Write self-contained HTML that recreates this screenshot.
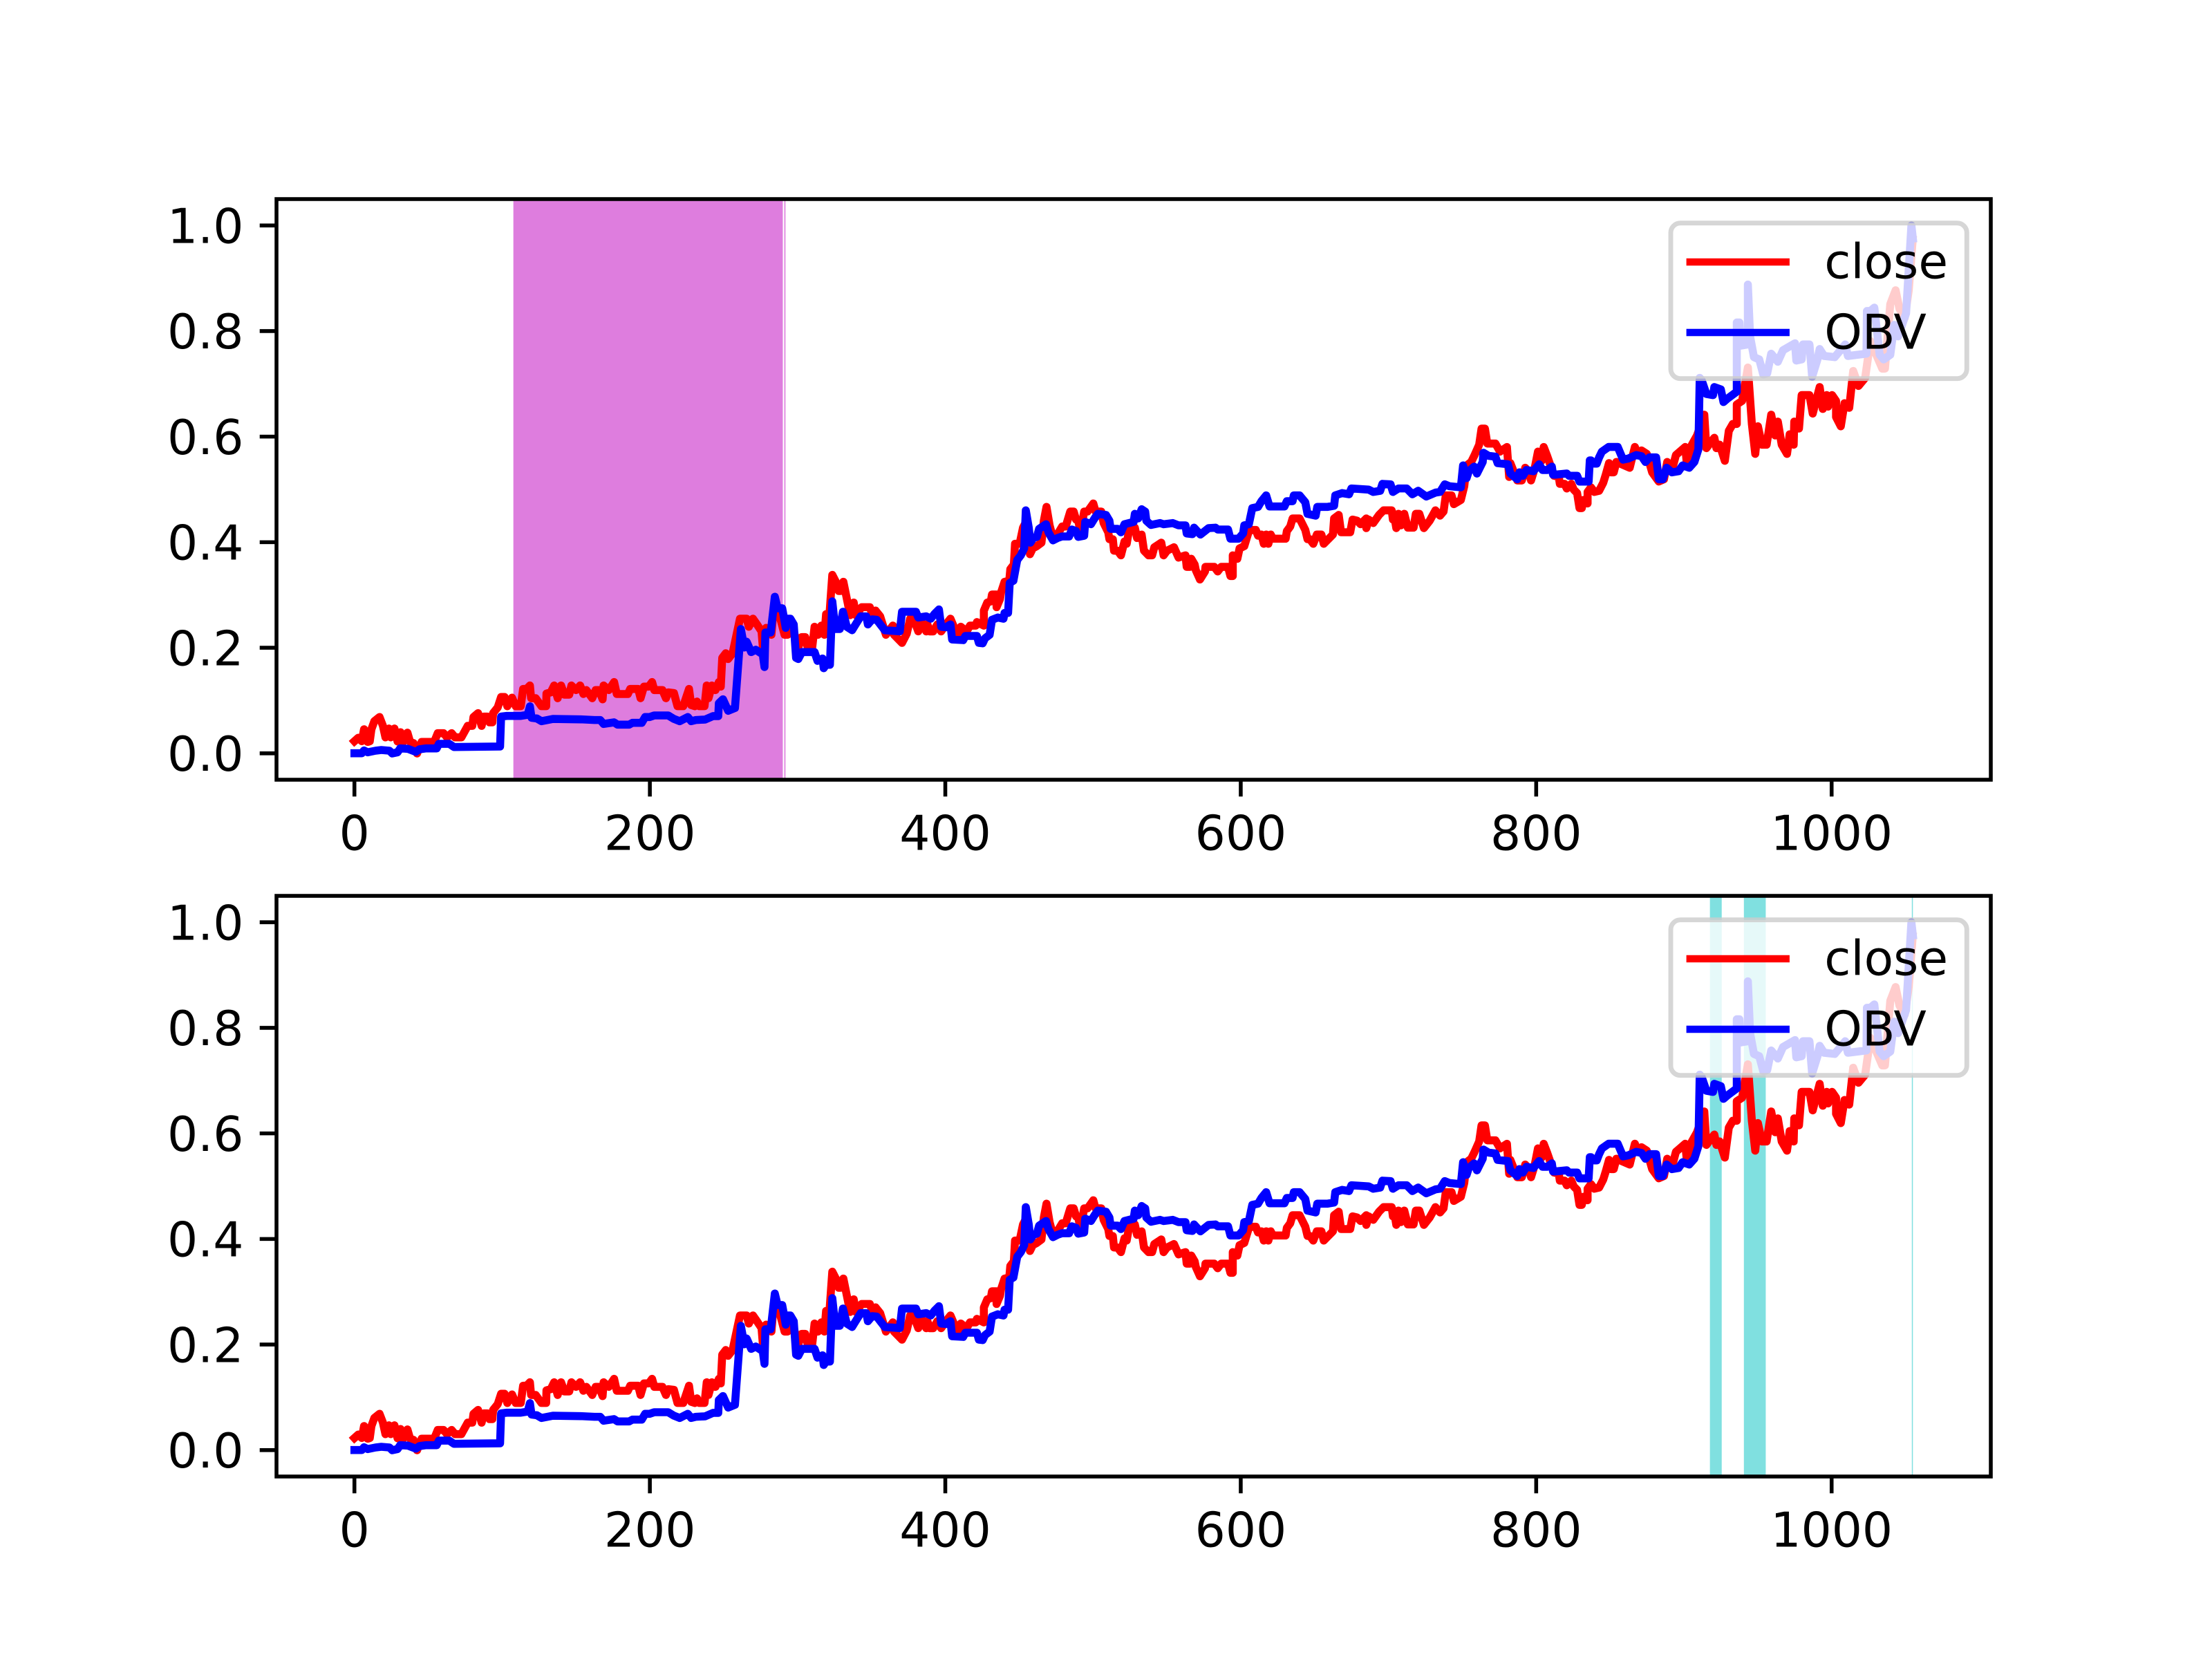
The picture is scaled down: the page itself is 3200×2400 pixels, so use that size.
<!DOCTYPE html>
<html lang="en">
<head>
<meta charset="utf-8">
<title>Close and OBV chart</title>
<style>
html,body{margin:0;padding:0;background:#fff;width:3200px;height:2400px;overflow:hidden}
svg{display:block}
text{font-family:"DejaVu Sans","Liberation Sans",sans-serif;font-size:69.44px;fill:#000}
</style>
</head>
<body>
<svg id="chart" xmlns="http://www.w3.org/2000/svg" width="3200" height="2400" viewBox="0 0 3200 2400">
<rect width="3200" height="2400" fill="#fff"/>
<g id="panel-top"></g>
<g id="panel-bottom"></g>
</svg>
<script>
const closeX = [0,2.6,5,6.5,9,10.4,11.5,13.5,17,19.3,21,23.4,24.6,27.1,29.2,31.2,33,35.9,37.7,40,42.4,45.5,54,56.4,60.3,62.7,65.8,68.1,72.4,76.7,79.8,80.6,83.7,86.1,87.6,90,91.5,93.4,93.9,97,99.3,101.7,103.5,106.7,109.2,112.6,114.2,116.5,118.8,119.6,122.7,126.6,129.8,130,132.9,135.2,137.6,139.9,142.2,145.4,146.9,150,152.8,155,157,161,163.3,165.6,168,168.7,172.2,175.8,177.6,185.1,186.7,192.1,193.7,196,199.2,201.5,203,208.5,210.9,212.4,216.3,218.7,222.6,226.5,228,230.4,231.9,233.5,237,238.5,239.7,242,244.4,246.7,248,249,251.4,253,256,261,265.5,267,269.8,272.5,275.6,276.5,278.7,282.3,283.4,287.3,291.2,293.2,295.5,300.5,302.9,305.2,306.8,309.9,311.5,313.8,316.1,318.2,319.3,321.6,323.5,326.3,327.8,329.1,331,335.6,338,339.5,343.4,348.9,350.5,352.8,355.9,359.8,364.5,365.3,370.7,373.9,376.2,378.5,381.7,384,387.1,387.9,389.4,391.8,394.6,397.2,400.4,403.5,405.8,408.9,410.5,414.4,416.7,420.6,421.4,426.1,426.1,428.4,430.8,431.6,434.7,434.7,437,437.8,440.1,443.3,444,446.4,447.2,450.3,452.6,455,457.3,459.2,462,465.1,466.7,468.5,470.6,472.9,476.8,479.1,481.5,484.6,486.9,488.5,490,491.6,494,496.3,500.2,501.7,505.6,507.2,510.3,511.1,513.4,514.2,516.6,518.9,521.3,522.8,524.4,528.3,529.8,532.9,534.5,537.6,540,541.5,543.9,546.2,547.8,550.1,554.8,557.9,562.6,563.4,565.7,566.5,568.8,569.6,572.4,575.8,576.1,582.1,584.4,586.8,591.4,593,594.6,594.6,597.7,599.2,602.4,605.5,607.8,610.2,611.7,614,615.6,617.2,618.7,620.3,621.8,630.4,631.2,633.5,635.1,639.8,643.7,645.2,646.8,649.1,651.5,654.6,656.2,658.5,662.4,663.2,666.3,667.9,674.1,675.7,678.8,681.1,685,685,686.6,689.7,693.6,696.7,702.2,703,703.7,705.3,706.8,708.4,710.7,713.1,717,718.5,720.9,724,727.9,731.8,734.9,737.3,738.8,742.7,744.3,749,751.3,752.9,756,758.3,761.4,763,765.3,766.9,772.4,775.5,780.2,781.7,782.5,787.2,790.3,792.6,795,796.5,798.9,801.2,803.6,805.1,807.5,812.1,815.3,816,819.2,820.7,823.8,825.4,827.7,829.3,830.9,831.9,834.8,834.8,837.1,839.4,842.6,845.4,847.1,849.3,850.7,852.5,854.3,863.3,866.8,868.6,871.3,874.9,878.5,883,886.5,888.7,891.9,894.6,898.2,900.9,901.8,905.4,908.9,913.8,915.2,920.6,922,924.2,927.7,930.4,933.1,935.8,935.8,939.4,943.3,946,948.3,950.1,952.8,956,959.1,961.8,963.6,966.2,969.8,971.6,974.3,974.7,977.9,979.7,985,987.2,991.9,994,996.7,997.6,1000.3,1003,1003,1006.2,1008.7,1011.9,1014.6,1018.2,1022.7,1026.2,1028.9,1034.3,1036.1,1039.7,1043.3,1045.9,1049.5,1052.2,1054.9];
const closeValues = [.0229,.0295,.023,.0456,.0216,.0229,.0456,.061,.0688,.052,.0303,.0469,.0303,.0469,.0225,.04,.0216,.0391,.0216,.0194,-.0002,.0216,.0216,.0382,.0382,.0303,.0382,.0303,.0303,.052,.052,.0688,.0762,.052,.0696,.0696,.0587,.0587,.0762,.087,.1067,.1067,.0893,.1054,.0893,.0893,.122,.122,.1285,.1045,.1045,.0893,.0893,.1133,.1155,.1285,.1045,.1285,.1111,.1111,.1285,.1198,.1285,.1124,.1198,.1045,.1198,.1198,.1023,.1285,.1198,.135,.1124,.1124,.122,.122,.1045,.1264,.1264,.135,.1198,.1198,.1045,.1155,.1141,.0893,.0893,.122,.0914,.0893,.098,.0893,.0893,.1285,.1045,.1285,.1198,.135,.1264,.1809,.1896,.1787,.1896,.2551,.2551,.2398,.2551,.2442,.2311,.2006,.2377,.2246,.2617,.266,.2246,.2246,.25,.2006,.2202,.2202,.2006,.2006,.2398,.2246,.242,.2246,.2638,.2638,.338,.3228,.3075,.3075,.325,.2617,.2857,.2617,.2769,.2769,.2638,.2704,.2595,.2246,.242,.2246,.2093,.2267,.2551,.2551,.2311,.2486,.231,.2442,.231,.231,.2442,.231,.2442,.2551,.2398,.2267,.2398,.231,.242,.242,.2486,.242,.2704,.2856,.2878,.3009,.3009,.2769,.2922,.3053,.3249,.3271,.3489,.3577,.397,.397,.4275,.4406,.3773,.3882,.3926,.3991,.4406,.4668,.4319,.4079,.4188,.4297,.4297,.4581,.4581,.4428,.4406,.4188,.4581,.4581,.4733,.4581,.4581,.4362,.4188,.4057,.4057,.3839,.3839,.3751,.4013,.397,.4231,.4275,.4079,.4144,.3839,.3751,.3751,.3904,.3948,.3991,.3751,.3839,.3904,.3708,.3751,.3533,.3533,.3686,.3577,.3468,.3293,.3446,.3533,.3533,.3446,.3533,.3533,.3359,.3359,.3751,.3686,.3882,.3926,.421,.4231,.4231,.4123,.4145,.397,.4145,.397,.4145,.4066,.4066,.421,.4297,.445,.445,.4232,.4057,.4057,.397,.4145,.4145,.397,.4035,.4145,.445,.4516,.4188,.4188,.4428,.4407,.4341,.445,.4267,.4428,.4363,.4516,.4603,.4603,.4428,.4537,.4267,.4537,.4319,.4537,.4275,.4275,.4537,.4537,.4267,.4407,.4603,.4503,.4581,.4887,.4887,.4721,.48,.5061,.5454,.552,.565,.5847,.6152,.6152,.5869,.5869,.5716,.5803,.5236,.5498,.517,.517,.541,.5323,.517,.5389,.5716,.5541,.5803,.5629,.5258,.5236,.5105,.5105,.5018,.5105,.4996,.493,.4646,.4646,.4799,.4734,.4952,.5039,.4952,.4974,.5127,.528,.5498,.5323,.5323,.552,.541,.5804,.5673,.5738,.5673,.5323,.5149,.5192,.552,.5367,.5651,.5738,.5804,.5542,.5847,.6022,.6415,.5782,.5978,.5782,.5847,.5542,.6109,.624,.624,.661,.6677,.7309,.624,.5673,.6196,.5847,.5847,.6415,.6022,.6284,.5847,.5673,.6044,.5847,.6284,.6153,.6786,.6786,.6437,.6939,.6524,.6786,.6568,.6786,.6677,.637,.6196,.6633,.6546,.7244,.696,.7113,.7811,.7637,.7288,.7288,.851,.8772,.8423,.8248,.8772,.9732];
const obvX = [0,5,6.5,9,14.3,18.2,23.7,25.6,29.2,31,36.2,41.6,44,48.6,55.7,57.2,64.2,67.4,98.6,99.3,103.2,112.6,117.3,118.8,119.9,123.5,126.6,134.4,153.2,162.5,166.4,168.7,175.8,178.1,185.9,188.2,194.5,196.8,199.9,203,212.4,216.3,220.2,225.7,228,231.1,237.4,242.8,246.3,246.7,249.5,253,257.6,261.6,263.9,265.5,268.6,271.7,276.4,277.6,278.2,281.8,284.6,286.5,289.6,292,292.7,295.1,297.4,299,300.5,302.9,311.5,313.5,316.9,317.7,319.3,321.9,323.5,325.5,328.6,330.7,333.3,336.9,338.8,342.7,346.5,347.6,350.5,353.6,359,369.2,370.7,380.1,381.7,387.1,390.2,392.6,395.7,397.2,400.4,403.5,404.6,412.1,413.6,421.4,422.7,425.3,426.9,430,431.6,435.5,439.4,440.1,442.5,443.6,446.1,448.7,451.1,453.4,454.5,456.5,457.6,459.6,462,463.5,468.2,469.8,472.9,476,479.1,483.8,485.7,488.5,490,494,494.7,498.6,501,503.3,508.8,511.1,511.9,516.6,518.9,521.3,527.5,528.3,530.6,532.9,535.3,536.1,539.2,545.4,547.8,554,557.9,562.6,563.4,567.3,568.4,572.7,578.2,582.9,584.4,591.4,593,598.5,601.6,602.4,605.5,607.8,611.7,614,617.2,619.5,629.6,631.2,635.1,635.9,639.8,643.7,645.2,650.7,651.8,658.5,663.2,664,668.6,673.3,674.9,686.6,689.7,694.4,695.9,701.4,703,706.8,712.3,716.2,720.1,725.6,731.8,734.9,738.1,741.2,749,750.5,752.9,754.4,758,759.9,763.8,764.3,767.7,772.4,773.9,780.9,782.5,787.2,788.7,791,793.4,798.1,802,804.3,807.5,810.6,811.4,812.9,820.7,822.3,827.7,829.3,835.5,836.3,837.1,839.4,841,842.6,844.5,849,855.2,858.8,862.4,867.7,871.3,874,876.7,881.2,883,885.7,888.3,891.9,896.4,899.1,903.6,907.1,909.8,910.7,912,915.2,919.7,920.6,925,926.8,929.5,935.8,935.8,937.6,938.5,943.3,943.3,944.8,947.4,951,953.7,956.4,959.1,963.6,967.1,975.2,976.1,979.7,980.6,985,986.8,990.4,991.9,994.9,1002.1,1009.2,1011,1023.6,1023.9,1026.2,1028.9,1032.5,1035.2,1039.7,1042.4,1045,1050.4,1054,1055];
const obvValues = [.0002,.0002,.0054,.002,.005,.0063,.005,-.0002,.002,.0094,.0085,.0028,.0076,.0094,.0094,.018,.018,.012,.0129,.0696,.0709,.0709,.073,.089,.0674,.0661,.0609,.0652,.0644,.0631,.0631,.0557,.0587,.0543,.0543,.0578,.0578,.0688,.0688,.0718,.0718,.0652,.0609,.0688,.0609,.0631,.064,.0705,.0705,.0949,.1024,.0806,.0858,.2355,.2006,.2115,.1918,.1962,.1875,.1635,.2289,.2289,.2966,.2748,.2748,.2377,.2551,.2551,.2442,.1809,.1787,.1918,.1918,.1752,.1796,.1613,.1678,.1678,.2879,.2355,.2355,.2682,.2398,.2333,.242,.2595,.2595,.2442,.2538,.2529,.2333,.2311,.2682,.2682,.2573,.2595,.2551,.2638,.2725,.2398,.2389,.2442,.2158,.2145,.2224,.2224,.2093,.2084,.218,.2245,.2529,.2573,.2551,.266,.266,.3227,.3271,.3664,.3751,.3882,.4603,.4275,.3991,.4079,.4101,.4253,.434,.4188,.4035,.4079,.4109,.4109,.424,.421,.4101,.4122,.4384,.4341,.445,.4537,.4515,.4406,.4253,.4253,.4188,.434,.4384,.4537,.445,.4624,.458,.4406,.4327,.4362,.434,.4362,.4319,.4319,.4166,.4153,.4275,.4144,.4266,.4275,.424,.424,.4066,.4066,.4166,.4319,.4341,.4646,.4668,.4777,.4887,.4677,.4677,.4777,.4777,.4887,.4887,.4756,.4537,.4503,.4668,.4668,.469,.4887,.493,.4908,.5018,.4996,.4952,.4974,.5105,.5096,.4952,.5018,.5018,.4908,.4974,.4865,.4939,.4952,.5096,.5061,.5039,.5454,.5214,.5345,.5432,.5301,.552,.5694,.5637,.562,.5498,.5476,.5301,.5192,.5323,.5258,.5367,.5345,.5476,.5367,.5367,.5432,.5279,.5279,.5301,.5258,.5258,.5148,.5148,.555,.555,.5489,.5489,.5607,.5716,.5804,.5804,.5564,.5585,.565,.5629,.552,.5607,.5607,.5192,.5192,.541,.5323,.5345,.5454,.541,.552,.576,.7113,.707,.6808,.6786,.6939,.6895,.6655,.672,.6851,.8161,.8161,.7724,.7746,.888,.7899,.7506,.7462,.7179,.72,.7571,.7419,.7637,.7768,.7441,.7462,.7746,.7746,.7135,.7462,.7659,.7528,.7506,.7746,.7528,.7571,.8379,.8379,.8444,.755,.7462,.755,.8117,.7899,.8335,1.0,.975];
const topSpanStarts = [107.6, 291];
const topSpanEnds = [290, 291.8];
const bottomSpanStarts = [917.6, 940.6, 1054.3];
const bottomSpanEnds = [925.6, 955.4, 1055];
const xTickValues = [0, 200, 400, 600, 800, 1000];
const xTickLabels = ["0", "200", "400", "600", "800", "1000"];
const yTickValues = [0, 0.2, 0.4, 0.6, 0.8, 1.0];
const yTickLabels = ["0.0", "0.2", "0.4", "0.6", "0.8", "1.0"];
const legendLabels = ["close", "OBV"];

const NS = "http://www.w3.org/2000/svg";
const AX_LEFT = 400, AX_RIGHT = 2880, AX_H = 840;
const X_MIN = -52.75, X_MAX = 1107.75, Y_MIN = -0.05, Y_MAX = 1.05;
const THIN = 5.56, LINE = 11.6, TICK = 24.3;

function xScale(v) { return AX_LEFT + (v - X_MIN) / (X_MAX - X_MIN) * (AX_RIGHT - AX_LEFT); }
function yScale(v, top) { return top + AX_H - (v - Y_MIN) / (Y_MAX - Y_MIN) * AX_H; }
function make(tag, parent) { const el = document.createElementNS(NS, tag); parent.appendChild(el); return el; }
function set(el, obj) { for (const k in obj) el.setAttribute(k, obj[k]); }
function pathFor(xs, ys, top) {
  return xs.map(function (x, i) { return (i ? "L" : "M") + xScale(x).toFixed(2) + " " + yScale(ys[i], top).toFixed(2); }).join("");
}

function drawPanel(parent, top, spanStarts, spanEnds, spanColor) {
  spanStarts.forEach(function (s, i) {
    const r = make("rect", parent);
    
    
    set(r, { x: xScale(s), y: top, width: xScale(spanEnds[i]) - xScale(s), height: AX_H, fill: spanColor });
  });

  const closeLine = make("path", parent);
  
  
  set(closeLine, { d: pathFor(closeX, closeValues, top), fill: "none", stroke: "#ff0000", "stroke-width": LINE, "stroke-linejoin": "round", "stroke-linecap": "square" });

  const obvLine = make("path", parent);
  
  
  set(obvLine, { d: pathFor(obvX, obvValues, top), fill: "none", stroke: "#0000ff", "stroke-width": LINE, "stroke-linejoin": "round", "stroke-linecap": "square" });

  const legend = make("g", parent);
  
  
  const frame = make("rect", legend);
  
  
  set(frame, { x: 2417, y: top + 34.7, width: 428.3, height: 225, rx: 13.9, ry: 13.9, fill: "#ffffff", "fill-opacity": 0.8, stroke: "#cccccc", "stroke-opacity": 0.8, "stroke-width": 6.94 });
  const handleColors = ["#ff0000", "#0000ff"];
  legendLabels.forEach(function (label, i) {
    const rowY = top + 91 + i * 102;
    const handle = make("line", legend);
    
    
    set(handle, { x1: 2444.8, x2: 2583.7, y1: rowY, y2: rowY, stroke: handleColors[i], "stroke-width": 10.42, "stroke-linecap": "square" });
    const t = make("text", legend);
    
    
    set(t, { x: 2639.2, y: rowY + 23.5 });
    t.textContent = label;
  });

  xTickValues.forEach(function (v, i) {
    const x = xScale(v);
    const tick = make("line", parent);
    
    
    set(tick, { x1: x, x2: x, y1: top + AX_H, y2: top + AX_H + TICK, stroke: "#000", "stroke-width": THIN });
    const label = make("text", parent);
    
    
    set(label, { x: x, y: top + AX_H + 101.5, "text-anchor": "middle" });
    label.textContent = xTickLabels[i];
  });

  yTickValues.forEach(function (v, i) {
    const y = yScale(v, top);
    const tick = make("line", parent);
    
    
    set(tick, { x1: AX_LEFT - TICK, x2: AX_LEFT, y1: y, y2: y, stroke: "#000", "stroke-width": THIN });
    const label = make("text", parent);
    
    
    set(label, { x: 352.4, y: y + 25.3, "text-anchor": "end" });
    label.textContent = yTickLabels[i];
  });

  const frameBox = make("rect", parent);
  
  
  set(frameBox, { x: AX_LEFT, y: top, width: AX_RIGHT - AX_LEFT, height: AX_H, fill: "none", stroke: "#000", "stroke-width": THIN, "stroke-linejoin": "miter" });
}

drawPanel(document.getElementById("panel-top"), 288, topSpanStarts, topSpanEnds, "#de7dde");
drawPanel(document.getElementById("panel-bottom"), 1296, bottomSpanStarts, bottomSpanEnds, "#80e0e0");
</script>
</body>
</html>
